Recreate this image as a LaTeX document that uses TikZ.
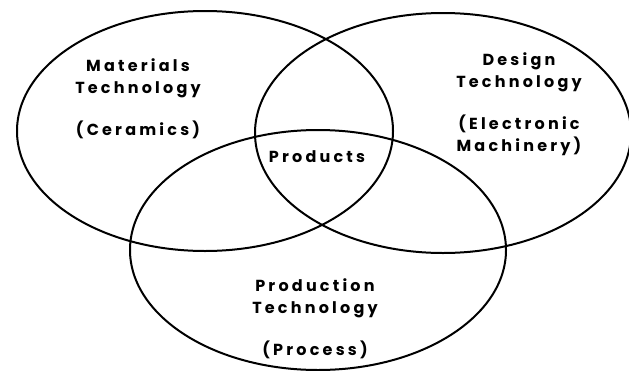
\documentclass[tikz,border=0pt]{standalone}
\usepackage{fontspec}
\setmainfont{Poppins}[LetterSpace=20]
\usetikzlibrary{shapes.geometric, positioning}

\tikzstyle{zone} = [
    ellipse,
    draw = black,
    line width = 2pt,
    minimum width = 376pt,
    minimum height = 240pt,
    inner sep = 0pt,
]
\tikzstyle{zonetext} = [
    align = center,
    font = \fontsize{16}{22}\selectfont\bfseries,
    inner sep = 0pt,
    anchor = base,
]

\begin{document}
\begin{tikzpicture} [x = 1pt, y = -1pt]
    \useasboundingbox (0, 0) rectangle (629, 370);

    \node (Materials) [zone] at (205, 131) {};
    \node (Design) [zone] at (443, 133) {};
    \node (Production) [zone] at (318, 250) {};

    % base anchor sits on the last line
    \node (MaterialsText) [zonetext] at (138, 135) {Materials\\Technology\\[20pt](Ceramics)};
    \node (DesignText) [zonetext] at (519, 151) {Design\\Technology\\[20pt](Electronic\\Machinery)};
    \node (ProductionText) [zonetext] at (315, 355) {Production\\Technology\\[20pt](Process)};

    \node (Products) [zonetext] at (317, 162) {Products};
\end{tikzpicture}
\end{document}
